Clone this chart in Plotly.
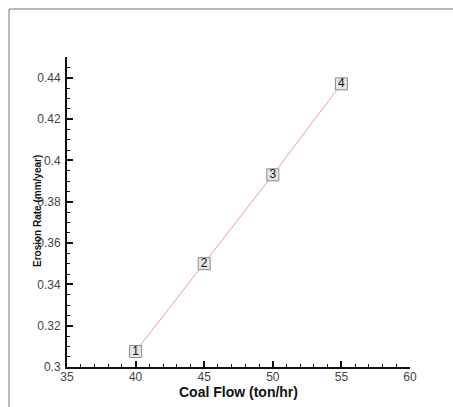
import plotly.graph_objects as go

coal_flow = [40, 45, 50, 55]
erosion_rate = [0.3075, 0.3500, 0.3930, 0.4370]
point_labels = ["1", "2", "3", "4"]

W, H = 453, 407
L, R, T, B = 67, 43, 57, 40
pw, ph = W - L - R, H - T - B

fig = go.Figure()
fig.add_trace(go.Scatter(
    x=coal_flow, y=erosion_rate, mode="lines",
    line=dict(color="#f39a9a", width=1), hoverinfo="skip", showlegend=False))
fig.add_trace(go.Scatter(
    x=coal_flow, y=erosion_rate, mode="markers+text", text=point_labels,
    textposition="middle center",
    textfont=dict(family="Liberation Sans, Arial", size=12, color="#111"),
    marker=dict(symbol="square", size=12, color="#e6e6e6",
                line=dict(color="#8a8a8a", width=1)),
    showlegend=False))

axis_font = dict(family="Liberation Sans, Arial", size=12, color="#444")
fig.update_layout(
    width=W, height=H,
    margin=dict(l=L, r=R, t=T, b=B, autoexpand=False),
    paper_bgcolor="white", plot_bgcolor="white",
    xaxis=dict(range=[35, 60], tick0=35, dtick=5, ticks="inside", ticklen=6,
               tickwidth=2, tickcolor="#111", showline=True, linecolor="#111",
               linewidth=2, showgrid=False, zeroline=False, tickfont=axis_font,
               ticklabelstandoff=-2,
               minor=dict(dtick=1, ticks="inside", ticklen=3, tickwidth=1, tickcolor="#111"),
               title=dict(text="<b>Coal Flow (ton/hr)</b>",
                          font=dict(family="Liberation Sans, Arial", size=14, color="#111"),
                          standoff=2),
               automargin=False),
    yaxis=dict(range=[0.3, 0.45], tick0=0.3, dtick=0.02, ticks="inside", ticklen=6,
               tickwidth=2, tickcolor="#111", showline=True, linecolor="#111",
               linewidth=2, showgrid=False, zeroline=False, tickfont=axis_font,
               ticklabelstandoff=2,
               minor=dict(dtick=0.005, ticks="inside", ticklen=3, tickwidth=1, tickcolor="#111"),
               automargin=False),
)

# y-axis title placed close to the tick labels, as in the reference
fig.add_annotation(text="<b>Erosion Rate (mm/year)</b>", textangle=-90,
                   xref="paper", yref="paper", x=(37 - L) / pw, y=(H - B - 211) / ph,
                   xanchor="center", yanchor="middle", showarrow=False,
                   font=dict(family="Liberation Sans, Arial", size=10, color="#111"))

# outer frame (top and left edges)
fx = (9 - L) / pw
fy = (H - B - 9) / ph
fig.add_shape(type="line", xref="paper", yref="paper", x0=fx, y0=fy, x1=(W - L) / pw + 0.01, y1=fy,
              line=dict(color="#777", width=1))
fig.add_shape(type="line", xref="paper", yref="paper", x0=fx, y0=fy, x1=fx, y1=-B / ph - 0.01,
              line=dict(color="#777", width=1))

fig.write_html("out.html")
